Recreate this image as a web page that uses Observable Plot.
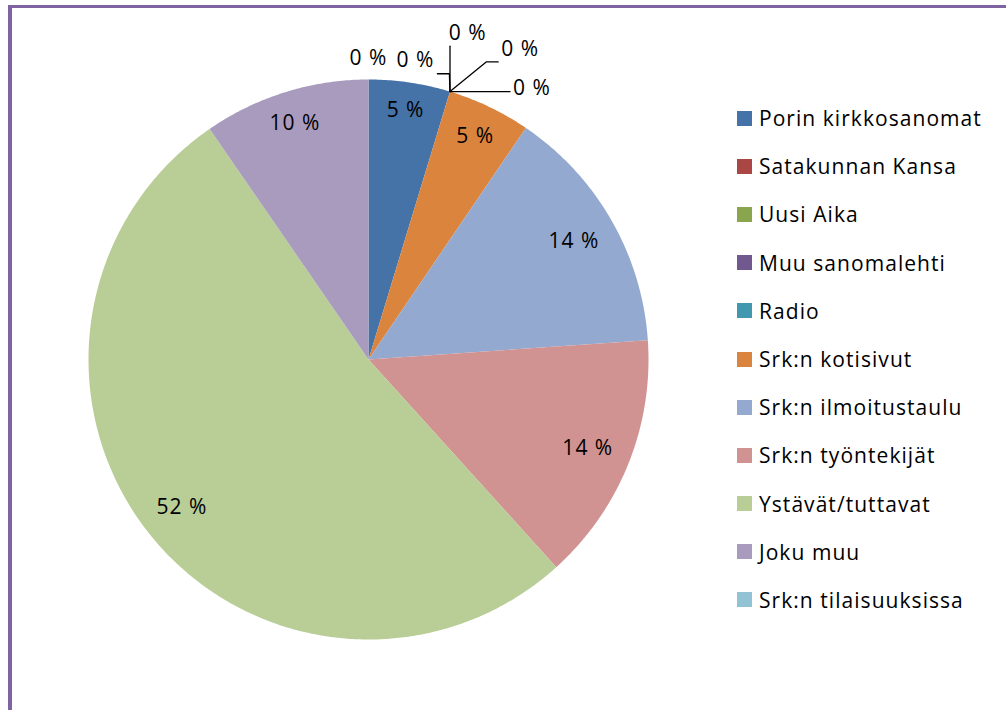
<!DOCTYPE html>
<html>
<head>
<meta charset="utf-8">
<script src="https://cdn.jsdelivr.net/npm/d3@7"></script>
<script src="https://cdn.jsdelivr.net/npm/@observablehq/plot@0.6"></script>
<style>
  html, body { margin: 0; padding: 0; width: 1006px; height: 710px; overflow: hidden; background: #fff; }
  #frame { position: absolute; left: 8px; top: 5px; right: -10px; bottom: -10px;
           border-left: 4.5px solid #8064A2; border-top: 3px solid #8064A2; }
  #chart { position: absolute; left: 0; top: 0; }
  #legend { position: absolute; left: 737px; top: 94px; font-family: "Open Sans", sans-serif;
            font-size: 21px; letter-spacing: 1.05px; color: #000; }
  .row { display: flex; align-items: center; height: 48.2px; white-space: nowrap; }
  .sw { width: 15px; height: 15px; margin-right: 7px; flex: none; }
</style>
</head>
<body>
<div id="frame"></div>
<div id="chart"></div>
<div id="legend"></div>
<script>
// ---- data ----
const names = ["Porin kirkkosanomat", "Satakunnan Kansa", "Uusi Aika", "Muu sanomalehti", "Radio",
  "Srk:n kotisivut", "Srk:n ilmoitustaulu", "Srk:n työntekijät", "Ystävät/tuttavat", "Joku muu",
  "Srk:n tilaisuuksissa"];
const values = [4.7, 0, 0, 0, 0, 4.8, 14.4, 14.4, 52.1, 9.6, 0];
const colors = ["#4572A7", "#AA4643", "#89A54E", "#71588F", "#4198AF", "#DB843D", "#93A9CF",
  "#D19392", "#B9CD96", "#A99BBD", "#91C3D5"];

const data = names.map((name, i) => ({name, value: values[i]}));
const arcs = d3.pie().sort(null).value(d => d.value)(data);
const R = 280; // px per unit (pie radius)
const FS = 21;

// slice polygons (unit circle, angle clockwise from 12 o'clock)
const poly = [];
for (const a of arcs) {
  if (a.data.value <= 0) continue;
  const n = Math.max(2, Math.ceil((a.endAngle - a.startAngle) / (Math.PI / 360)));
  poly.push({name: a.data.name, x: 0, y: 0});
  for (let i = 0; i <= n; i++) {
    const t = a.startAngle + (a.endAngle - a.startAngle) * i / n;
    poly.push({name: a.data.name, x: Math.sin(t), y: Math.cos(t)});
  }
  poly.push({name: a.data.name, x: 0, y: 0});
}

// labels of non-zero slices: "best fit" inside the edge, allowing for label extent
const inLabels = arcs.filter(a => a.data.value > 0).map(a => {
  const m = (a.startAngle + a.endAngle) / 2;
  const text = `${Math.round(a.data.value)} %`;
  const hw = text.length * 0.3 * FS, hh = 8.5;
  const ext = hw * Math.abs(Math.sin(m)) + hh * Math.abs(Math.cos(m));
  const r = (R - 17 - ext) / R;
  return {x: r * Math.sin(m), y: r * Math.cos(m), text};
});

// labels of zero slices, fanned out with leader lines
const zeroArcs = arcs.filter(a => a.data.value <= 0);
const clusters = d3.groups(zeroArcs, a => Math.round(a.startAngle * 1000));
const outLabels = [], leaders = [];
for (const [, group] of clusters) {
  const n = group.length;
  group.forEach((a, i) => {
    const base = a.startAngle;
    let ang, rr;
    if (n === 1) { ang = base; rr = 1.075; }
    else {
      const t = i / (n - 1);
      ang = base + (-8 + 22.2 * t + 6 * t * t * Math.sin(Math.PI * t)) * Math.PI / 180;
      rr = 1.08 + 0.05 * t + 0.14 * Math.sin(Math.PI * t);
    }
    const L = {x: rr * Math.sin(ang), y: rr * Math.cos(ang)};
    outLabels.push({...L, text: `${Math.round(a.data.value)} %`});
    const E = {x: Math.sin(base), y: Math.cos(base)};
    const hw = 22 / R, hh = 13 / R;
    const N = {x: Math.max(L.x - hw, Math.min(L.x + hw, E.x)), y: Math.max(L.y - hh, Math.min(L.y + hh, E.y))};
    if (Math.hypot(N.x - E.x, N.y - E.y) < 12 / R) return;
    const id = a.data.name;
    const pts = [E];
    const onSide = Math.abs(Math.abs(N.x - L.x) - hw) < 1e-9;
    if (onSide) {
      const ex = N.x + Math.sign(E.x - N.x) * 12 / R;
      pts.push({x: ex, y: N.y});
    }
    pts.push(N);
    pts.forEach(p => leaders.push({id, ...p}));
  });
}

const plot = Plot.plot({
  width: 720, height: 710,
  marginLeft: 88, marginRight: 72, marginTop: 79, marginBottom: 71,
  x: {domain: [-1, 1], axis: null},
  y: {domain: [-1, 1], axis: null},
  color: {domain: names, range: colors},
  style: {fontFamily: "Open Sans, sans-serif", fontSize: "21px", background: "transparent", overflow: "visible", letterSpacing: "1px"},
  marks: [
    Plot.line(poly, {x: "x", y: "y", z: "name", fill: "name", stroke: "none", curve: "linear"}),
    Plot.line(leaders, {x: "x", y: "y", z: "id", stroke: "#000", strokeWidth: 1.3}),
    Plot.text(inLabels, {x: "x", y: "y", text: "text", fill: "#000", fontSize: FS}),
    Plot.text(outLabels, {x: "x", y: "y", text: "text", fill: "#000", fontSize: FS})
  ]
});
document.getElementById("chart").appendChild(plot);

// legend
const legend = d3.select("#legend");
names.forEach((n, i) => {
  const row = legend.append("div").attr("class", "row");
  row.append("div").attr("class", "sw").style("background", colors[i]);
  row.append("span").text(n);
});
</script>
</body>
</html>
